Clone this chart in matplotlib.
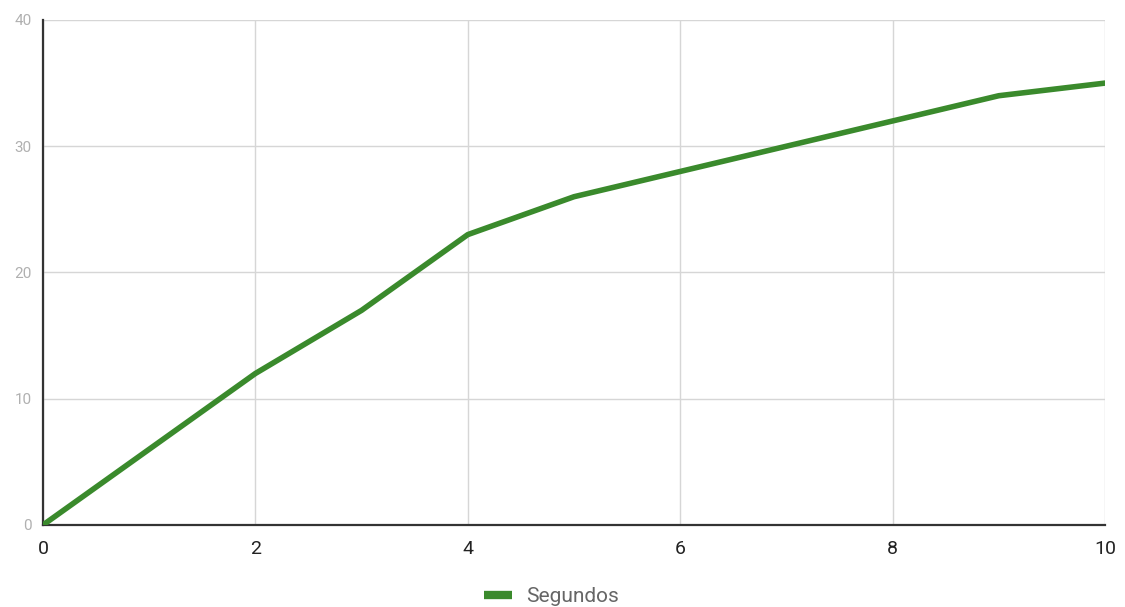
import matplotlib
matplotlib.use("Agg")
import matplotlib.pyplot as plt

# Tiempo acumulado por paso
x_vals = [0, 1, 2, 3, 4, 5, 6, 7, 8, 9, 10]
segundos = [0, 6, 12, 17, 23, 26, 28, 30, 32, 34, 35]
x_ticks = [0, 2, 4, 6, 8, 10]
y_ticks = [0, 10, 20, 30, 40]

plt.rcParams["font.family"] = ["Roboto", "DejaVu Sans"]

fig = plt.figure(figsize=(11.25, 6.07), dpi=100)
ax = fig.add_axes([0.0382, 0.1351, 0.944, 0.832])

ax.plot(x_vals, segundos, color="#3a8a2c", linewidth=4, solid_capstyle="round",
        label="Segundos", zorder=3)

ax.set_xlim(0, 10)
ax.set_ylim(0, 40)
ax.set_xticks(x_ticks)
ax.set_yticks(y_ticks)
ax.grid(True, color="#d6d6d6", linewidth=1, zorder=0)

for side in ("top", "right"):
    ax.spines[side].set_visible(False)
for side in ("left", "bottom"):
    ax.spines[side].set_color("#333333")
    ax.spines[side].set_linewidth(1.6)

ax.tick_params(axis="both", length=0)
ax.tick_params(axis="x", labelsize=14, labelcolor="#222222", pad=11)
ax.tick_params(axis="y", labelsize=11, labelcolor="#b0b0b0", pad=8)

leg = ax.legend(loc="center", bbox_to_anchor=(0.479, -0.142), frameon=False,
                handlelength=1.3, handletextpad=0.7, fontsize=15)
for line in leg.get_lines():
    line.set_linewidth(6)
    line.set_solid_capstyle("butt")
for t in leg.get_texts():
    t.set_color("#666666")

fig.savefig("out.png", dpi=100, facecolor="white")
